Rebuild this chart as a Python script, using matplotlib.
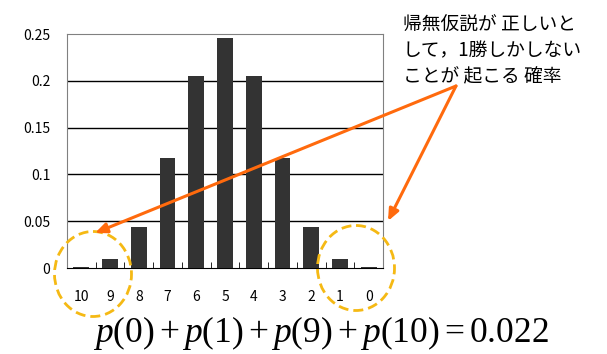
import matplotlib
matplotlib.use("Agg")
import matplotlib.pyplot as plt
from matplotlib.patches import Ellipse

WINS = ["10", "9", "8", "7", "6", "5", "4", "3", "2", "1", "0"]
PROB = [0.001, 0.010, 0.044, 0.117, 0.205, 0.246, 0.205, 0.117, 0.044, 0.010, 0.001]
Y_TICKS = [0, 0.05, 0.1, 0.15, 0.2, 0.25]
Y_LABELS = ["0", "0.05", "0.1", "0.15", "0.2", "0.25"]
NOTE_LINES = ["帰無仮説が 正しいと", "して，1勝しかしない", "ことが 起こる 確率"]
FORMULA = r"$p(0)+p(1)+p(9)+p(10)=0.022$"

plt.rcParams["font.family"] = ["Noto Sans CJK JP", "DejaVu Sans"]
plt.rcParams["mathtext.fontset"] = "custom"
plt.rcParams["mathtext.rm"] = "Liberation Serif"
plt.rcParams["mathtext.it"] = "Liberation Serif:italic"

W, H = 607, 354
fig = plt.figure(figsize=(W / 100, H / 100), dpi=100)
ax = fig.add_axes([67 / W, 1 - 268 / H, (383 - 67) / W, (268 - 34) / H])

x = list(range(len(WINS)))
ax.bar(x, PROB, width=0.55, color="#333333", zorder=3)
ax.set_xlim(-0.5, len(WINS) - 0.5)
ax.set_ylim(0, 0.25)
ax.set_yticks(Y_TICKS)
ax.set_yticklabels(Y_LABELS, fontsize=10)
ax.tick_params(axis="y", length=0, pad=12)
ax.set_xticks(x)
ax.set_xticklabels(WINS, fontsize=10)
ax.tick_params(axis="x", which="major", length=0, pad=16)
ax.set_xticks([i + 0.5 for i in x[:-1]], minor=True)
ax.tick_params(axis="x", which="minor", direction="in", length=4, color="black")
for y in Y_TICKS[1:-1]:
    ax.axhline(y, color="black", lw=1, zorder=1)
for side in ("top", "left", "right"):
    ax.spines[side].set_color("#808080")
ax.spines["bottom"].set_color("black")

# overlay in pixel coordinates for the annotations
ov = fig.add_axes([0, 0, 1, 1], zorder=5)
ov.set_xlim(0, W)
ov.set_ylim(H, 0)
ov.axis("off")
ov.patch.set_alpha(0)

for cx, cy in [(93, 274), (356, 268)]:
    ov.add_patch(Ellipse((cx, cy), 77, 85, fill=False, ec="#F5B914", lw=2,
                         ls=(0, (3.6, 1.8))))

for tip in [(95, 233), (388, 221)]:
    ov.annotate("", xy=tip, xytext=(456, 86),
                arrowprops=dict(arrowstyle="-|>,head_length=0.7,head_width=0.3",
                                color="#FF6A0D", lw=2.2, shrinkA=0, shrinkB=0))

for i, line in enumerate(NOTE_LINES):
    ov.text(403, 25 + i * 26, line, fontsize=13.5, ha="left", va="center")

ov.text(321, 333, FORMULA, fontsize=25.5, ha="center", va="center")

fig.savefig("out.png", dpi=100)
